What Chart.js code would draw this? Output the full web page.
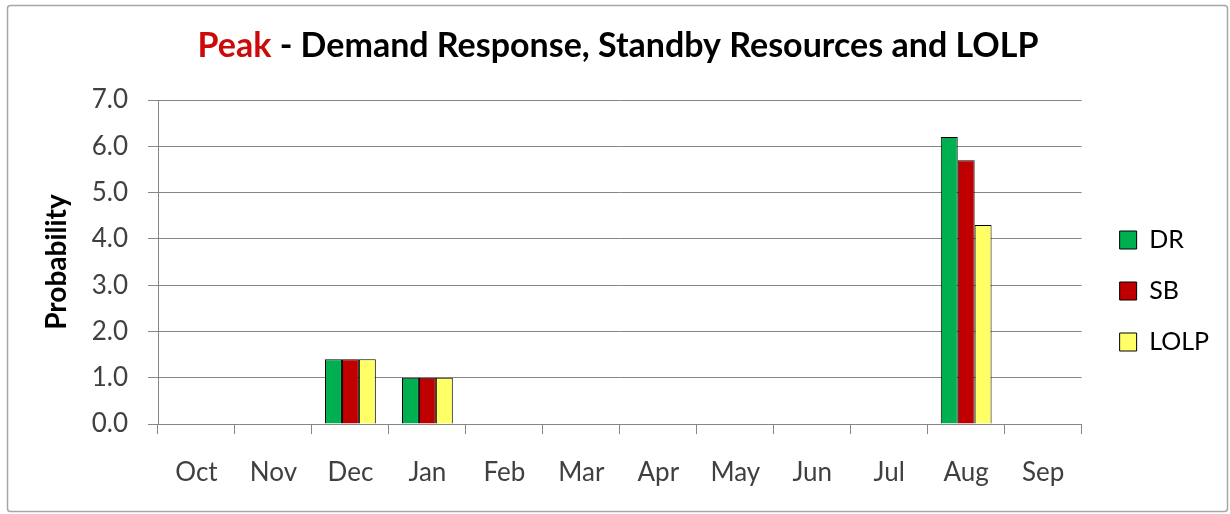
<!DOCTYPE html>
<html>
<head>
<meta charset="utf-8">
<script src="https://cdn.jsdelivr.net/npm/chart.js@4.4.1/dist/chart.umd.min.js"></script>
<style>
html,body{margin:0;padding:0;background:#fff;}
#wrap{width:1230px;height:514px;position:relative;}
</style>
</head>
<body>
<div id="wrap"><canvas id="c" width="1230" height="514"></canvas></div>
<script>
const categories = ['Oct','Nov','Dec','Jan','Feb','Mar','Apr','May','Jun','Jul','Aug','Sep'];
const drValues   = [0, 0, 1.4, 1.0, 0, 0, 0, 0, 0, 0, 6.2, 0];
const sbValues   = [0, 0, 1.4, 1.0, 0, 0, 0, 0, 0, 0, 5.7, 0];
const lolpValues = [0, 0, 1.4, 1.0, 0, 0, 0, 0, 0, 0, 4.3, 0];
const titleRed = 'Peak';
const titleRest = ' - Demand Response, Standby Resources and LOLP';
const yAxisTitle = 'Probability';

const FONT = 'Lato, "Open Sans", sans-serif';

const frameAndTitle = {
  id: 'frameAndTitle',
  afterLayout(chart) {
    // let the month labels extend below the (shortened) x-axis box
    if (chart.scales.x) chart.scales.x.bottom = chart.height;
    if (chart.legend) { chart.legend.left += 12; chart.legend.right += 12; }
  },
  beforeDraw(chart) {
    const ctx = chart.ctx;
    ctx.save();
    ctx.fillStyle = '#fff';
    ctx.fillRect(0, 0, chart.width, chart.height);
    ctx.strokeStyle = '#a6a6a6';
    ctx.lineWidth = 1.5;
    ctx.beginPath();
    if (ctx.roundRect) ctx.roundRect(7.5, 5.5, 1220, 506, 3); else ctx.rect(7.5, 5.5, 1220, 506);
    ctx.stroke();
    ctx.restore();
  },
  afterDraw(chart) {
    const ctx = chart.ctx;
    ctx.save();
    ctx.font = 'bold 34px ' + FONT;
    ctx.textBaseline = 'middle';
    const w1 = ctx.measureText(titleRed).width;
    const w2 = ctx.measureText(titleRest).width;
    const cx = 618;
    let x = cx - (w1 + w2) / 2;
    ctx.fillStyle = '#cc0a0a';
    ctx.fillText(titleRed, x, 46);
    ctx.fillStyle = '#000';
    ctx.fillText(titleRest, x + w1, 46);
    ctx.restore();
  }
};

new Chart(document.getElementById('c'), {
  type: 'bar',
  data: {
    labels: categories,
    datasets: [
      { label: 'DR', data: drValues, backgroundColor: '#00b050', borderColor: '#000', borderWidth: 1 },
      { label: 'SB', data: sbValues, backgroundColor: '#c00000', borderColor: '#000', borderWidth: 1 },
      { label: 'LOLP', data: lolpValues, backgroundColor: '#ffff66', borderColor: '#000', borderWidth: 1 }
    ]
  },
  options: {
    responsive: false,
    animation: false,
    devicePixelRatio: 1,
    layout: { padding: { left: 0, right: 23, top: 100, bottom: 32 } },
    datasets: { bar: { categoryPercentage: 0.66, barPercentage: 1.0 } },
    plugins: {
      legend: {
        position: 'right',
        labels: {
          font: { family: FONT, size: 25 },
          color: '#000',
          boxWidth: 17,
          boxHeight: 18,
          padding: 26
        }
      },
      tooltip: { enabled: false }
    },
    scales: {
      x: {
        grid: { display: true, offset: true, drawOnChartArea: false, drawTicks: true, tickLength: 10, color: '#868686' },
        border: { color: '#868686' },
        ticks: { font: { family: FONT, size: 26 }, color: '#404040', padding: 23 },
        afterFit(scale) { scale.height = 58; }
      },
      y: {
        min: 0, max: 7,
        ticks: { stepSize: 1, font: { family: FONT, size: 26 }, color: '#404040', padding: 20,
                 callback: v => Number(v).toFixed(1) },
        grid: { color: '#868686', tickLength: 10 },
        border: { color: '#868686' },
        title: { display: true, text: yAxisTitle, font: { family: FONT, size: 28, weight: 'bold' }, color: '#000', padding: { top: 40, bottom: 6 } },
        afterFit(scale) { scale.width = 158; }
      }
    }
  },
  plugins: [frameAndTitle]
});
</script>
</body>
</html>
